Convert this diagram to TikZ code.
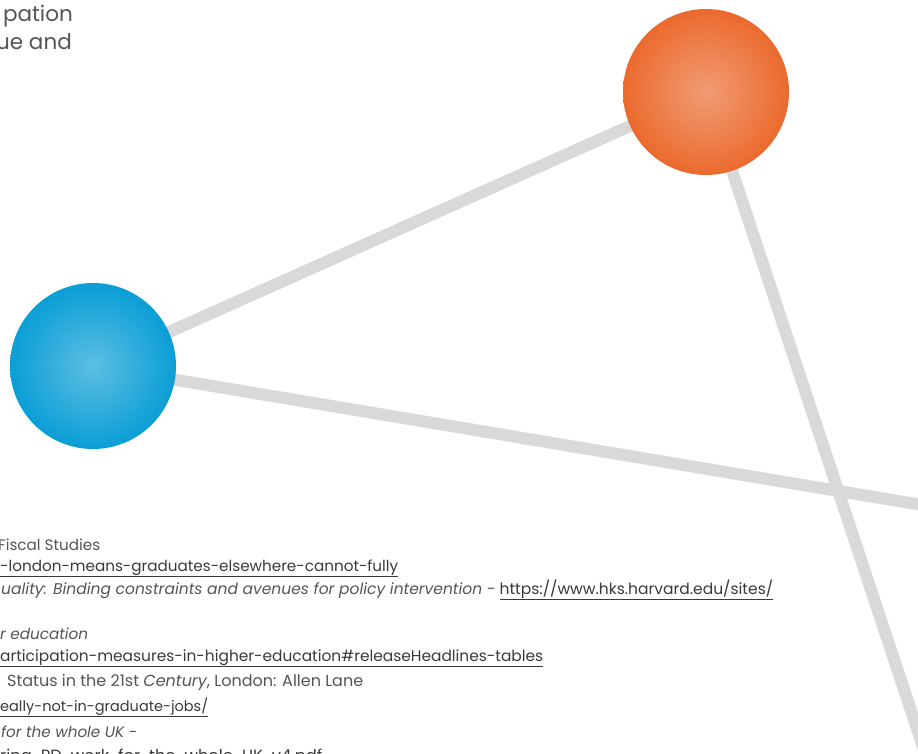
\documentclass[tikz,border=0pt]{standalone}
\usepackage{fontspec}
\setmainfont{Poppins}
\usetikzlibrary{backgrounds}
\definecolor{conncol}{HTML}{D9D9D9}
\definecolor{txt}{HTML}{555555}
\definecolor{lnk}{HTML}{3A3A3A}
\definecolor{orIn}{HTML}{F19C74}
\definecolor{orOut}{HTML}{EB6A2E}
\definecolor{blIn}{HTML}{5DBEE2}
\definecolor{blOut}{HTML}{0A9ED6}
\tikzset{
  ball/.style={circle, minimum size=166pt, inner sep=0pt, shading=radial},
  orangeball/.style={ball, inner color=orIn, outer color=orOut},
  blueball/.style={ball, inner color=blIn, outer color=blOut},
  conn/.style={draw=conncol, line width=12pt},
  body/.style={inner sep=0pt, anchor=base west, text=txt, font=\fontsize{15.4pt}{17pt}\selectfont},
  head/.style={inner sep=0pt, anchor=base east, text=txt, font=\fontsize{21.5pt}{24pt}\selectfont},
}
\newcommand{\lk}[1]{\textcolor{lnk}{\underline{#1}}}
\newcommand{\fitw}[2]{\resizebox{#1pt}{!}{#2}}
\begin{document}
\begin{tikzpicture}[x=1pt,y=-1pt]
\useasboundingbox (0,0) rectangle (918,754);
\clip (0,0) rectangle (918,754);
\node[orangeball] (o) at (706,92) {};
\node[blueball] (b) at (93,366) {};
\coordinate (e1) at (940,508);
\coordinate (e2) at (934,780);
\begin{pgfonlayer}{background}
\fill[white] (0,0) rectangle (918,754);
\draw[conn] (b.center) -- (o.center);
\draw[conn] (b.center) -- (e1);
\draw[conn] (o.center) -- (e2);
\end{pgfonlayer}
\node[head] (h1) at (73,22) {pation};
\node[head] (h2) at (72,50) {ue and};
\node[body] (t1) at (-2,550) {\fitw{102}{Fiscal Studies}};
\node[body] (t2) at (0,571) {\fitw{398}{\lk{-london-means-graduates-elsewhere-cannot-fully}}};
\node[body] (t3) at (1,594) {\fitw{772}{\textit{uality: Binding constraints and avenues for policy intervention -} \lk{https://www.hks.harvard.edu/sites/}}};
\node[body] (t4) at (0,639) {\fitw{88}{\textit{r education}}};
\node[body] (t5) at (0,661) {\fitw{543}{\lk{articipation-measures-in-higher-education\#releaseHeadlines-tables}}};
\node[body] (t6) at (7,686) {\fitw{356}{Status in the 21st \textit{Century}, London: Allen Lane}};
\node[body] (t7) at (0,711) {\fitw{208}{\lk{eally-not-in-graduate-jobs/}}};
\node[body] (t8) at (1,737) {\fitw{136}{\textit{for the whole UK -}}};
\node[body] (t9) at (0,761) {\fitw{322}{\lk{ring-PD-work-for-the-whole-UK-v4.pdf}}};
\end{tikzpicture}
\end{document}
